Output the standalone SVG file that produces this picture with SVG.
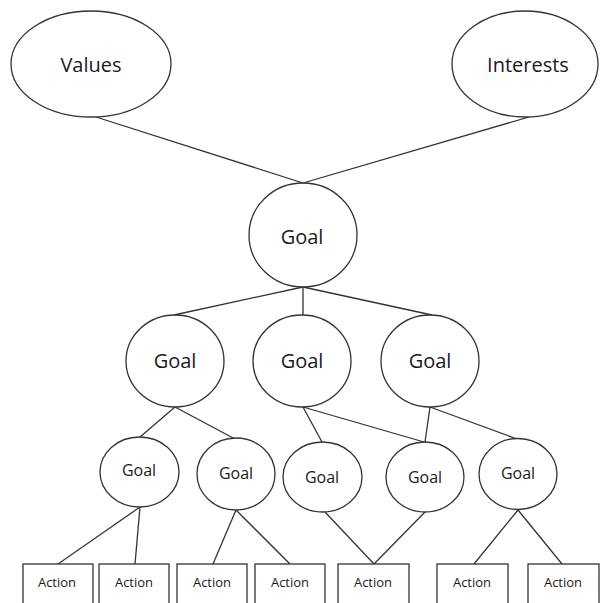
<svg xmlns="http://www.w3.org/2000/svg" width="600" height="603" viewBox="0 0 600 603">
<style>
.n{fill:#fff;stroke:#333;stroke-width:1.3}
.c line{stroke:#333;stroke-width:1.3}
text{font-family:"Open Sans","Noto Sans","DejaVu Sans",sans-serif;fill:#1a1a1a;text-anchor:middle;dominant-baseline:central}
.l{font-size:20px}
.m{font-size:16px}
.s{font-size:13px}
</style>
<rect width="600" height="603" fill="#fff"/>
<g class="c">
<line x1="96" y1="117" x2="303" y2="183"/>
<line x1="529" y1="117" x2="303" y2="183"/>
<line x1="303" y1="287" x2="174" y2="315"/>
<line x1="303" y1="287" x2="303" y2="315"/>
<line x1="303" y1="287" x2="432" y2="315"/>
<line x1="175" y1="407" x2="140" y2="437"/>
<line x1="175" y1="407" x2="235" y2="439"/>
<line x1="303" y1="407" x2="322" y2="442"/>
<line x1="303" y1="407" x2="424" y2="442"/>
<line x1="430" y1="407" x2="425" y2="442"/>
<line x1="430" y1="407" x2="517" y2="439"/>
<line x1="140" y1="507" x2="58" y2="564"/>
<line x1="140" y1="507" x2="135" y2="564"/>
<line x1="236" y1="510" x2="213" y2="564"/>
<line x1="236" y1="510" x2="290" y2="564"/>
<line x1="325" y1="512" x2="374" y2="564"/>
<line x1="425" y1="512" x2="374" y2="564"/>
<line x1="518" y1="510" x2="474" y2="564"/>
<line x1="518" y1="510" x2="562" y2="564"/>
</g>
<g id="values"><ellipse class="n" cx="91" cy="64" rx="80" ry="53"/><text class="l" x="91" y="64">Values</text></g>
<g id="interests"><ellipse class="n" cx="525" cy="64" rx="73" ry="53"/><text class="l" x="528" y="64">Interests</text></g>
<g id="goal-top"><ellipse class="n" cx="303" cy="235" rx="54" ry="52"/><text class="l" x="302" y="236">Goal</text></g>
<g id="goal-2a"><ellipse class="n" cx="175" cy="361" rx="49" ry="46"/><text class="l" x="175" y="360">Goal</text></g>
<g id="goal-2b"><ellipse class="n" cx="302" cy="361" rx="49" ry="46"/><text class="l" x="302" y="360">Goal</text></g>
<g id="goal-2c"><ellipse class="n" cx="430" cy="361" rx="49" ry="46"/><text class="l" x="430" y="360">Goal</text></g>
<g id="goal-3a"><ellipse class="n" cx="139.5" cy="472" rx="39.5" ry="35"/><text class="m" x="139" y="470">Goal</text></g>
<g id="goal-3b"><ellipse class="n" cx="236" cy="474" rx="39" ry="36"/><text class="m" x="236" y="473">Goal</text></g>
<g id="goal-3c"><ellipse class="n" cx="322.5" cy="477" rx="39.5" ry="35"/><text class="m" x="322" y="477">Goal</text></g>
<g id="goal-3d"><ellipse class="n" cx="425" cy="477" rx="39" ry="35"/><text class="m" x="425" y="477">Goal</text></g>
<g id="goal-3e"><ellipse class="n" cx="518" cy="474" rx="39" ry="35.5"/><text class="m" x="518" y="473">Goal</text></g>
<g id="action-1"><rect class="n" x="23" y="564" width="70" height="50"/><text class="s" x="57" y="582">Action</text></g>
<g id="action-2"><rect class="n" x="99" y="564" width="70" height="50"/><text class="s" x="134" y="582">Action</text></g>
<g id="action-3"><rect class="n" x="177" y="564" width="70" height="50"/><text class="s" x="212" y="582">Action</text></g>
<g id="action-4"><rect class="n" x="255" y="564" width="70" height="50"/><text class="s" x="290" y="582">Action</text></g>
<g id="action-5"><rect class="n" x="338" y="564" width="71" height="50"/><text class="s" x="373" y="582">Action</text></g>
<g id="action-6"><rect class="n" x="437" y="564" width="71" height="50"/><text class="s" x="472" y="582">Action</text></g>
<g id="action-7"><rect class="n" x="528" y="564" width="71" height="50"/><text class="s" x="563" y="582">Action</text></g>
</svg>
